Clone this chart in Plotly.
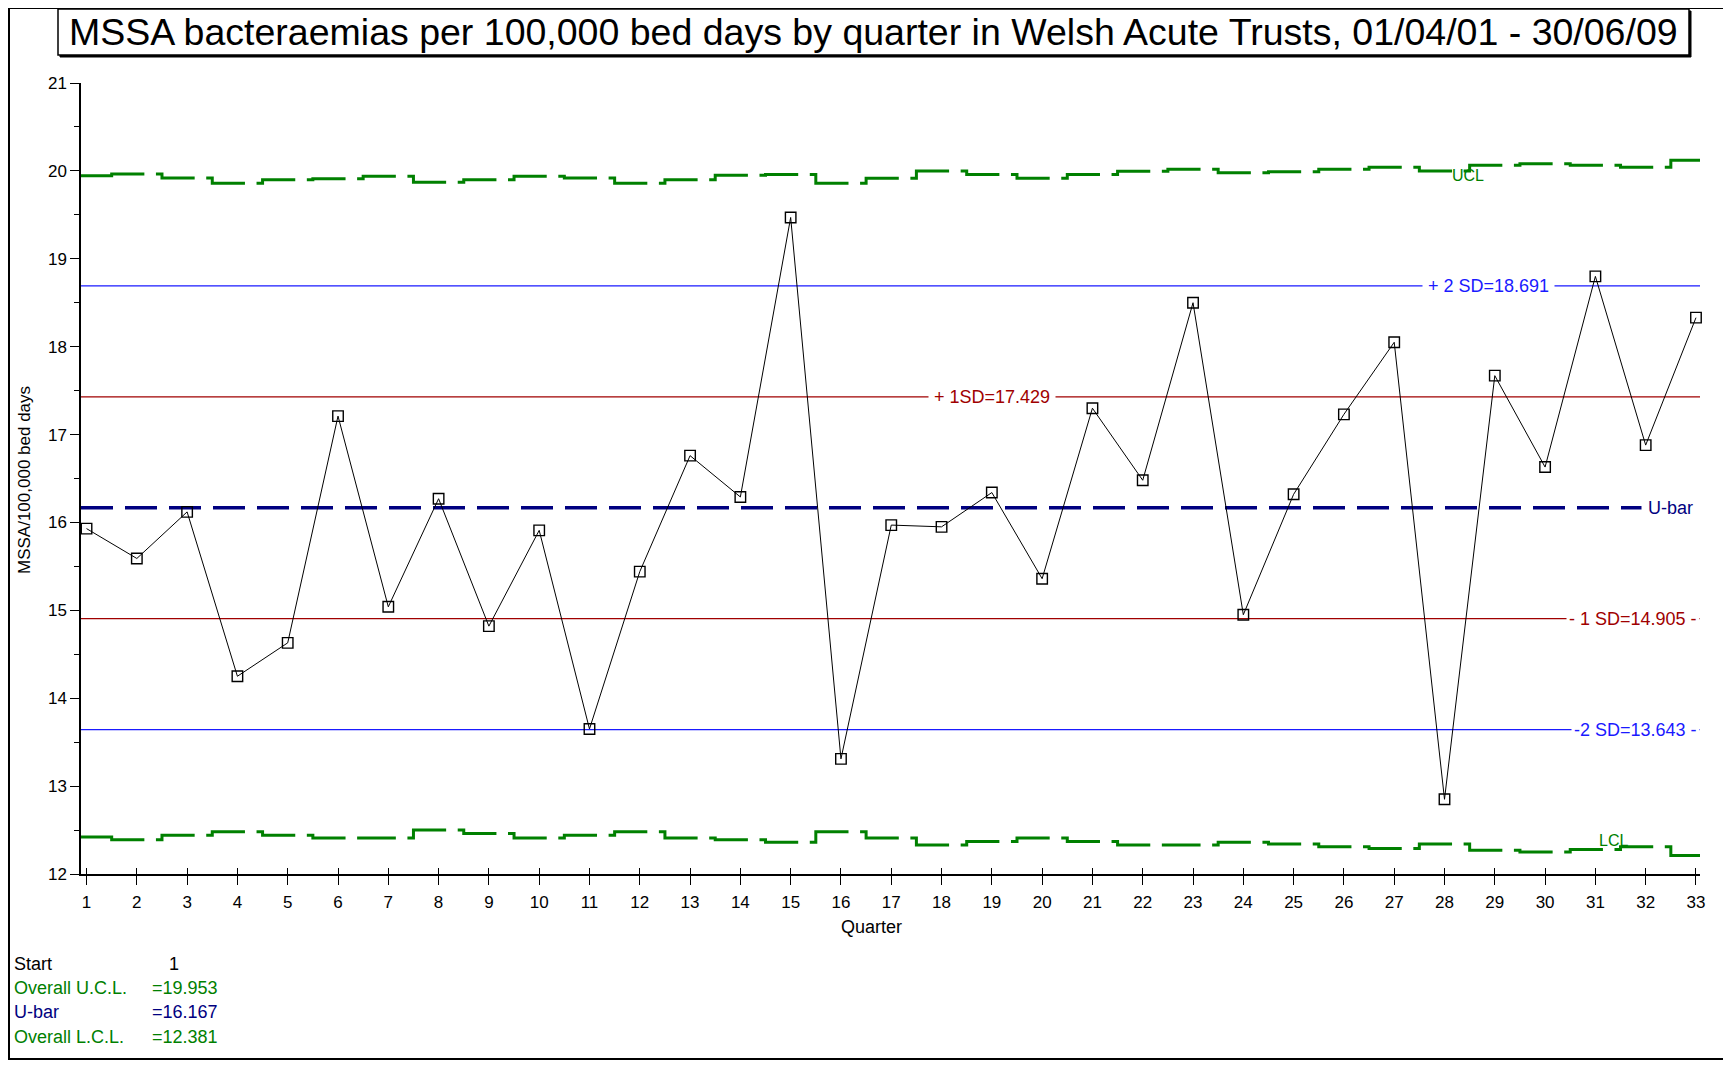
import plotly.graph_objects as go

# ---------------- data ----------------
quarters = list(range(1, 34))
rate = [15.93, 15.59, 16.12, 14.25, 14.63, 17.21, 15.04, 16.27, 14.82, 15.91,
        13.65, 15.44, 16.76, 16.29, 19.47, 13.31, 15.97, 15.95, 16.34, 15.36,
        17.30, 16.48, 18.50, 14.95, 16.32, 17.23, 18.05, 12.85, 17.67, 16.63,
        18.80, 16.88, 18.33]
ucl = [19.945, 19.965, 19.92, 19.86, 19.90, 19.91, 19.94, 19.87, 19.90, 19.94,
       19.92, 19.86, 19.90, 19.95, 19.96, 19.86, 19.915, 20.00, 19.96, 19.915,
       19.96, 19.995, 20.02, 19.98, 19.99, 20.02, 20.04, 20.00, 20.065, 20.08,
       20.065, 20.04, 20.12]
lcl = [12.42, 12.39, 12.44, 12.48, 12.44, 12.41, 12.41, 12.50, 12.46, 12.41,
       12.44, 12.48, 12.41, 12.39, 12.36, 12.48, 12.41, 12.33, 12.37, 12.41,
       12.37, 12.33, 12.33, 12.36, 12.34, 12.31, 12.29, 12.34, 12.27, 12.25,
       12.28, 12.31, 12.21]
ubar = 16.167
overall_ucl = 19.953
overall_lcl = 12.381
plus2sd = 18.691
plus1sd = 17.429
minus1sd = 14.905
minus2sd = 13.643

title_text = "MSSA bacteraemias per 100,000 bed days by quarter in Welsh Acute Trusts, 01/04/01 - 30/06/09"

# ---------------- layout geometry (screen pixels; page body has an 8px margin) ----------------
OFF = 8
SW, SH = 1731, 1065
W, H = SW - OFF, SH - OFF
PL, PR, PT, PB = 81, 1700, 83, 874
X_MIN, X_MAX = 0.89, 33.08
FONT = "Liberation Sans, Arial, sans-serif"
GREEN = "#008000"
BLUE = "#1a1aff"
RED = "#a00000"
NAVY = "#000080"


def px(p):
    return (p - PL) / (PR - PL)


def py(p):
    return (PB - p) / (PB - PT)


def qx(p):
    return 1 + (p - 86) / 50.31


def step_segments(levels):
    xs, ys = [], []
    n = len(levels)
    for i in range(1, n):
        q = quarters[i]
        xs0 = X_MIN if i == 1 else q - 0.62
        xs1 = X_MAX if i == n - 1 else q + 0.15
        xs += [xs0, q - 0.5, q - 0.5, xs1, None]
        ys += [levels[i - 1], levels[i - 1], levels[i], levels[i], None]
    return xs, ys


fig = go.Figure()

ux, uy = step_segments(ucl)
lx, ly = step_segments(lcl)
fig.add_trace(go.Scatter(x=ux, y=uy, mode="lines", line=dict(color=GREEN, width=3),
                         hoverinfo="skip", connectgaps=False))
fig.add_trace(go.Scatter(x=lx, y=ly, mode="lines", line=dict(color=GREEN, width=3),
                         hoverinfo="skip", connectgaps=False))

# reference lines
for val, col, w, dash in [(plus2sd, BLUE, 1.3, "solid"), (plus1sd, RED, 1.3, "solid"),
                          (minus1sd, RED, 1.3, "solid"), (minus2sd, BLUE, 1.3, "solid"),
                          (ubar, NAVY, 3.5, "32px,12px")]:
    fig.add_trace(go.Scatter(x=[X_MIN, X_MAX], y=[val, val], mode="lines",
                             line=dict(color=col, width=w, dash=dash), hoverinfo="skip"))

# data series
fig.add_trace(go.Scatter(x=quarters, y=rate, mode="lines+markers", cliponaxis=False,
                         line=dict(color="black", width=1),
                         marker=dict(symbol="square-open", size=10.5, color="black",
                                     line=dict(width=1.4, color="black"))))

# invisible trace on secondary x axis for the inside half of the x ticks
fig.add_trace(go.Scatter(x=[X_MIN], y=[12], xaxis="x2", mode="markers",
                         marker=dict(opacity=0), hoverinfo="skip"))

annotations = []
# line labels
annotations.append(dict(x=qx(1488), y=plus2sd, xref="x", yref="y",
                        text="+ 2 SD=18.691", showarrow=False, bgcolor="white",
                        borderpad=5, font=dict(family=FONT, size=18, color=BLUE),
                        xanchor="center", yanchor="middle"))
annotations.append(dict(x=qx(992), y=plus1sd, xref="x", yref="y",
                        text="+ 1SD=17.429", showarrow=False, bgcolor="white",
                        borderpad=5, font=dict(family=FONT, size=18, color=RED),
                        xanchor="center", yanchor="middle"))
annotations.append(dict(x=1, y=minus1sd, xref="paper", yref="y",
                        text="- 1 SD=14.905 -", showarrow=False, bgcolor="white",
                        borderpad=2, font=dict(family=FONT, size=18, color=RED),
                        xanchor="right", yanchor="middle"))
annotations.append(dict(x=1, y=minus2sd, xref="paper", yref="y",
                        text="-2 SD=13.643 -", showarrow=False, bgcolor="white",
                        borderpad=2, font=dict(family=FONT, size=18, color=BLUE),
                        xanchor="right", yanchor="middle"))
annotations.append(dict(x=1, y=ubar, xref="paper", yref="y",
                        text="U-bar", showarrow=False, bgcolor="white",
                        borderpad=6, font=dict(family=FONT, size=18, color=NAVY),
                        xanchor="right", yanchor="middle"))
annotations.append(dict(x=qx(1468), y=overall_ucl, xref="x", yref="y",
                        text="UCL", showarrow=False,
                        font=dict(family=FONT, size=16, color=GREEN),
                        xanchor="center", yanchor="middle"))
annotations.append(dict(x=qx(1613), y=overall_lcl, xref="x", yref="y",
                        text="LCL", showarrow=False,
                        font=dict(family=FONT, size=16, color=GREEN),
                        xanchor="center", yanchor="middle"))

# title
annotations.append(dict(x=px(873.5), y=py(32), xref="paper", yref="paper",
                        text=title_text, showarrow=False,
                        font=dict(family=FONT, size=37.5, color="black"),
                        xanchor="center", yanchor="middle"))
# axis titles
annotations.append(dict(x=px(871), y=py(927), xref="paper", yref="paper",
                        text="Quarter", showarrow=False,
                        font=dict(family=FONT, size=18, color="black"),
                        xanchor="center", yanchor="middle"))
annotations.append(dict(x=px(24), y=py(480), xref="paper", yref="paper",
                        text="MSSA/100,000 bed days", showarrow=False, textangle=-90,
                        font=dict(family=FONT, size=17, color="black"),
                        xanchor="center", yanchor="middle"))

# bottom-left summary
summary_labels = ["Start", "Overall U.C.L.", "U-bar", "Overall L.C.L."]
summary_values = ["1", "=19.953", "=16.167", "=12.381"]
summary_colors = ["black", GREEN, NAVY, GREEN]
summary_y = [964, 988, 1012, 1037]
summary_vx = [167, 150, 150, 150]
for lab, val, col, yy, vx in zip(summary_labels, summary_values, summary_colors, summary_y, summary_vx):
    annotations.append(dict(x=px(12), y=py(yy), xref="paper", yref="paper", text=lab,
                            showarrow=False, font=dict(family=FONT, size=18, color=col),
                            xanchor="left", yanchor="middle"))
    annotations.append(dict(x=px(vx), y=py(yy), xref="paper", yref="paper", text=val,
                            showarrow=False, font=dict(family=FONT, size=18, color=col),
                            xanchor="left", yanchor="middle"))

shapes = [
    # outer frame
    dict(type="rect", xref="paper", yref="paper", x0=px(9), x1=px(1729), y0=py(1059), y1=py(8),
         line=dict(color="black", width=2), fillcolor="rgba(0,0,0,0)", layer="above"),
    # title box shadow + box
    dict(type="rect", xref="paper", yref="paper", x0=px(60), x1=px(1691), y0=py(57), y1=py(11),
         line=dict(color="black", width=1), fillcolor="black", layer="below"),
    dict(type="rect", xref="paper", yref="paper", x0=px(58), x1=px(1689), y0=py(55), y1=py(9),
         line=dict(color="black", width=1.5), fillcolor="white", layer="below"),
]

fig.update_layout(
    width=W, height=H,
    margin=dict(l=PL - OFF, r=SW - PR, t=PT - OFF, b=SH - PB, pad=0),
    paper_bgcolor="white", plot_bgcolor="white",
    showlegend=False,
    font=dict(family=FONT, size=17, color="black"),
    annotations=annotations,
    shapes=shapes,
    xaxis=dict(range=[X_MIN, X_MAX], tickvals=quarters, ticktext=[str(q) for q in quarters],
               showgrid=False, zeroline=False, showline=True, linecolor="black", linewidth=1.5,
               ticks="outside", ticklen=9, tickwidth=1.3, tickcolor="black",
               tickfont=dict(family=FONT, size=17), ticklabelstandoff=3),
    xaxis2=dict(range=[X_MIN, X_MAX], overlaying="x", anchor="y", side="bottom",
                tickvals=quarters, showticklabels=False, showgrid=False, zeroline=False,
                showline=False, ticks="inside", ticklen=6, tickwidth=1.3, tickcolor="black"),
    yaxis=dict(range=[12, 21], tickvals=list(range(12, 22)), showgrid=False, zeroline=False,
               showline=True, linecolor="black", linewidth=1.5,
               ticks="outside", ticklen=9, tickwidth=1.3, tickcolor="black",
               tickfont=dict(family=FONT, size=17),
               minor=dict(dtick=0.5, tick0=12, ticks="outside", ticklen=5, tickwidth=1.3,
                          tickcolor="black", showgrid=False)),
)

fig.write_html("out.html")
